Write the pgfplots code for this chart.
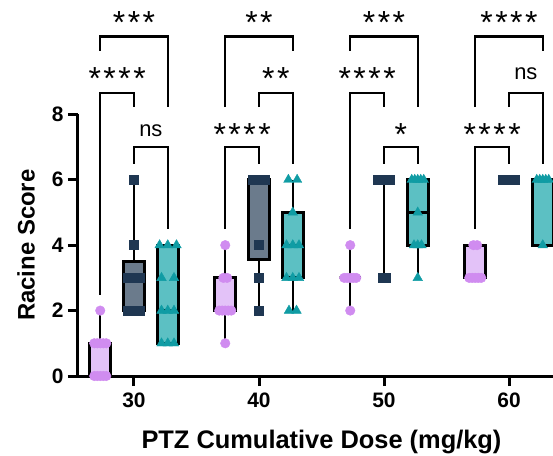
\documentclass[border=0pt]{standalone}
\usepackage{fontspec}
\setmainfont{Liberation Sans}
\usepackage{pgfplots}
\pgfplotsset{compat=1.18}
\usepgfplotslibrary{statistics}
\definecolor{pbox}{HTML}{E3C2F8}
\definecolor{pmk}{HTML}{D08CF0}
\definecolor{sbox}{HTML}{6B7B8C}
\definecolor{smk}{HTML}{1F3752}
\definecolor{tbox}{HTML}{5CC0C3}
\definecolor{tmk}{HTML}{109CA4}
\newcommand{\sk}{\kern2.5bp}
\newcommand{\starfont}{\fontsize{32}{32}\selectfont}
\newcommand{\nsfont}{\fontsize{22}{22}\selectfont}
\begin{document}
\begin{tikzpicture}
\begin{axis}[
 at={(0,0)}, anchor=south west,
 scale only axis, width=475bp, height=261.7bp,
 xmin=25.52, xmax=63.52, ymin=0, ymax=8,
 axis x line=bottom, axis y line=left,
 axis line style={line width=3bp, -},
 xtick={30,40,50,60}, ytick={0,2,4,6,8},
 tick align=outside, major tick length=10bp,
 tick style={line width=3bp, black},
 /pgf/number format/assume math mode=true,
 tick label style={font=\fontsize{21}{21}\selectfont\bfseries},
 xticklabel style={yshift=-3bp},
 yticklabel style={xshift=-1bp},
 xlabel={PTZ Cumulative Dose (mg/kg)},
 ylabel={Racine Score},
 xlabel style={font=\fontsize{25.5}{25.5}\selectfont\bfseries, at={(axis description cs:0.5126,0)}, anchor=center, yshift=-66bp},
 ylabel style={font=\fontsize{24}{24}\selectfont\bfseries, at={(axis description cs:0,0.5)}, anchor=center, yshift=52bp},
 clip=false,
 boxplot/draw direction=y,
 boxplot/box extend=1.7,
 boxplot/whisker extend=0,
 boxplot/every box/.style={line width=2.8bp},
 boxplot/every whisker/.style={line width=2.2bp},
 boxplot/every median/.style={line width=2.2bp},
 br/.style={black, line width=2.2bp, sharp plot, mark=none},
]
% ---- boxes: purple
\addplot[draw=black, fill=pbox, boxplot prepared={draw position=27.3, lower whisker=0, lower quartile=0, median=1, upper quartile=1, upper whisker=2}] coordinates {};
\addplot[draw=black, fill=pbox, boxplot prepared={draw position=37.3, lower whisker=1, lower quartile=2, median=2, upper quartile=3, upper whisker=4}] coordinates {};
\addplot[draw=black, fill=pbox, boxplot prepared={draw position=47.3, lower whisker=2, lower quartile=3, median=3, upper quartile=3, upper whisker=4}] coordinates {};
\addplot[draw=black, fill=pbox, boxplot prepared={draw position=57.3, lower whisker=3, lower quartile=3, median=3, upper quartile=4, upper whisker=4}] coordinates {};
% ---- boxes: slate
\addplot[draw=black, fill=sbox, boxplot prepared={draw position=30, lower whisker=2, lower quartile=2, median=3, upper quartile=3.5, upper whisker=6}] coordinates {};
\addplot[draw=black, fill=sbox, boxplot prepared={draw position=40, lower whisker=2, lower quartile=3.55, median=6, upper quartile=6, upper whisker=6}] coordinates {};
\addplot[draw=black, fill=sbox, boxplot prepared={draw position=50, lower whisker=3, lower quartile=6, median=6, upper quartile=6, upper whisker=6}] coordinates {};
\addplot[draw=black, fill=sbox, boxplot prepared={draw position=60, lower whisker=6, lower quartile=6, median=6, upper quartile=6, upper whisker=6}] coordinates {};
% ---- boxes: teal
\addplot[draw=black, fill=tbox, boxplot prepared={draw position=32.7, lower whisker=1, lower quartile=1, median=2, upper quartile=4, upper whisker=4}] coordinates {};
\addplot[draw=black, fill=tbox, boxplot prepared={draw position=42.7, lower whisker=2, lower quartile=3, median=4, upper quartile=5, upper whisker=6}] coordinates {};
\addplot[draw=black, fill=tbox, boxplot prepared={draw position=52.7, lower whisker=3, lower quartile=4, median=5, upper quartile=6, upper whisker=6}] coordinates {};
\addplot[draw=black, fill=tbox, boxplot prepared={draw position=62.7, lower whisker=4, lower quartile=4, median=6, upper quartile=6, upper whisker=6}] coordinates {};
% ---- points: purple
\addplot[only marks, mark=*, mark size=4.8bp, color=pmk] table {
x y
26.82 0
27.06 0
27.3 0
27.54 0
27.78 0
26.82 1
27.06 1
27.3 1
27.54 1
27.78 1
27.3 2
37.3 4
37.15 3
37.45 3
36.82 2
37.06 2
37.3 2
37.54 2
37.78 2
37.3 1
47.3 4
46.82 3
47.06 3
47.3 3
47.54 3
47.78 3
47.3 2
57.15 4
57.45 4
56.82 3
57.06 3
57.3 3
57.54 3
57.78 3
};
% ---- points: slate
\addplot[only marks, mark=square*, mark size=4.5bp, color=smk] table {
x y
30 6
30 4
29.52 3
29.76 3
30 3
30.24 3
30.48 3
29.52 2
29.76 2
30 2
30.24 2
30.48 2
39.52 6
39.76 6
40 6
40.24 6
40.48 6
40 4
40 3
40 2
49.52 6
49.76 6
50 6
50.24 6
50.48 6
49.9 3
50.1 3
59.52 6
59.76 6
60 6
60.24 6
60.48 6
};
% ---- points: teal
\addplot[only marks, mark=triangle*, mark size=5.5bp, color=tmk] table {
x y
32.05 4
32.7 4
33.4 4
32.2 3
33.2 3
32.2 2
32.7 2
33.2 2
32.2 1
32.7 1
33.2 1
42.35 6
43.05 6
42.7 5
42.2 4
42.7 4
43.2 4
42.2 3
42.7 3
43.2 3
42.4 2
43.0 2
52.22 6
52.46 6
52.7 6
52.94 6
53.18 6
52.7 5
52.4 4
52.7 4
53.0 4
52.7 3
62.22 6
62.46 6
62.7 6
62.94 6
63.18 6
62.7 4
};
% ---- brackets 30
\addplot[br] coordinates {(27.3,9.94)(27.3,10.38)(32.7,10.38)(32.7,8.22)};
\addplot[br] coordinates {(27.3,2.49)(27.3,8.65)(30,8.65)(30,8.22)};
\addplot[br] coordinates {(30,6.49)(30,7.0)(32.7,7.0)(32.7,4.49)};
% ---- brackets 40
\addplot[br] coordinates {(37.3,8.22)(37.3,10.38)(42.7,10.38)(42.7,9.94)};
\addplot[br] coordinates {(40,8.22)(40,8.65)(42.7,8.65)(42.7,6.49)};
\addplot[br] coordinates {(37.3,4.49)(37.3,7.0)(40,7.0)(40,6.49)};
% ---- brackets 50
\addplot[br] coordinates {(47.3,9.94)(47.3,10.38)(52.7,10.38)(52.7,8.22)};
\addplot[br] coordinates {(47.3,4.49)(47.3,8.65)(50,8.65)(50,8.22)};
\addplot[br] coordinates {(50,6.49)(50,7.0)(52.7,7.0)(52.7,6.49)};
% ---- brackets 60
\addplot[br] coordinates {(57.3,8.22)(57.3,10.38)(62.7,10.38)(62.7,9.94)};
\addplot[br] coordinates {(60,8.22)(60,8.65)(62.7,8.65)(62.7,6.49)};
\addplot[br] coordinates {(57.3,4.49)(57.3,7.0)(60,7.0)(60,6.49)};
% ---- labels
\node[anchor=base, inner sep=0, font=\starfont] at (axis cs:30,10.46) {*\sk*\sk*};
\node[anchor=base, inner sep=0, font=\starfont] at (axis cs:28.65,8.76) {*\sk*\sk*\sk*};
\node[anchor=base, inner sep=0, font=\nsfont] at (axis cs:31.35,7.32) {ns};
\node[anchor=base, inner sep=0, font=\starfont] at (axis cs:40,10.46) {*\sk*};
\node[anchor=base, inner sep=0, font=\starfont] at (axis cs:41.35,8.76) {*\sk*};
\node[anchor=base, inner sep=0, font=\starfont] at (axis cs:38.65,7.05) {*\sk*\sk*\sk*};
\node[anchor=base, inner sep=0, font=\starfont] at (axis cs:50,10.46) {*\sk*\sk*};
\node[anchor=base, inner sep=0, font=\starfont] at (axis cs:48.65,8.76) {*\sk*\sk*\sk*};
\node[anchor=base, inner sep=0, font=\starfont] at (axis cs:51.35,7.05) {*};
\node[anchor=base, inner sep=0, font=\starfont] at (axis cs:60,10.46) {*\sk*\sk*\sk*};
\node[anchor=base, inner sep=0, font=\nsfont] at (axis cs:61.35,9.07) {ns};
\node[anchor=base, inner sep=0, font=\starfont] at (axis cs:58.65,7.05) {*\sk*\sk*\sk*};
\end{axis}
\pgfresetboundingbox
\path[use as bounding box] (-78bp,-80bp) rectangle (475bp,376bp);
\end{tikzpicture}
\end{document}
